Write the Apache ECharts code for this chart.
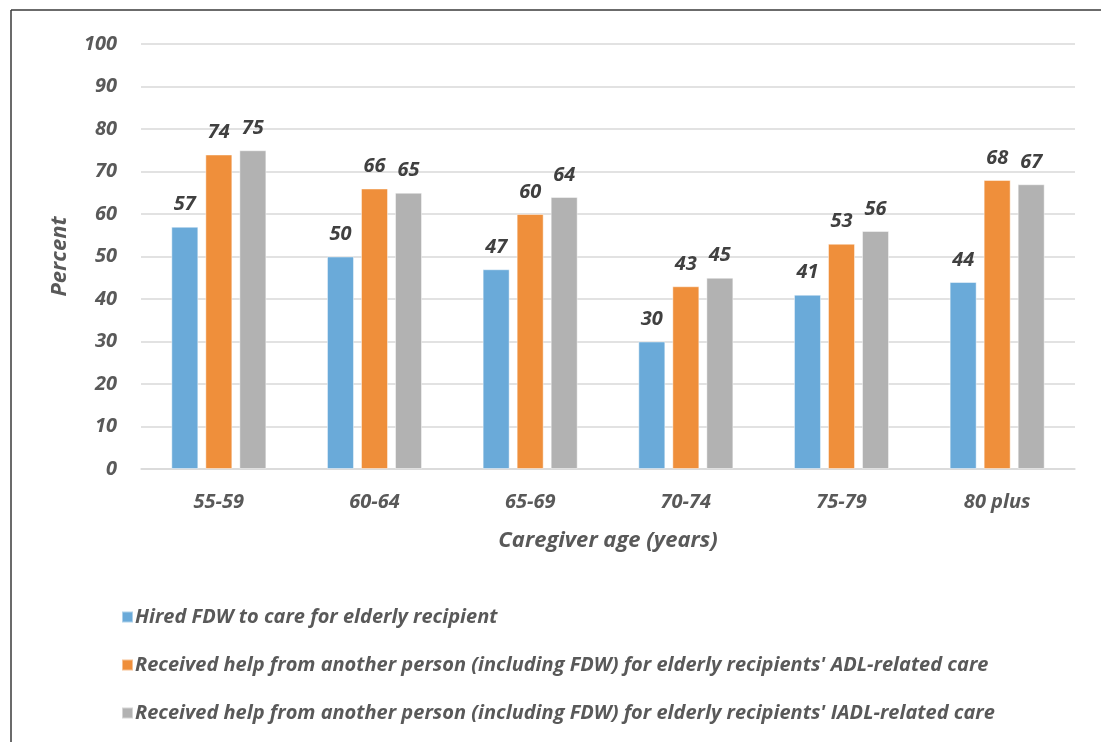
<!DOCTYPE html>
<html>
<head>
<meta charset="utf-8">
<style>
  html, body { margin: 0; padding: 0; background: #ffffff; }
  #chart { width: 1101px; height: 742px; }
</style>
<script src="https://cdn.jsdelivr.net/npm/echarts@6/dist/echarts.min.js"></script>
</head>
<body>
<div id="chart"></div>
<script>
// Caregiver age groups
const ageGroups = ['55-59', '60-64', '65-69', '70-74', '75-79', '80 plus'];

// Percent of caregivers in each group
const hiredFDW = [57, 50, 47, 30, 41, 44];
const helpADL = [74, 66, 60, 43, 53, 68];
const helpIADL = [75, 65, 64, 45, 56, 67];

const seriesNames = [
  'Hired FDW to care for elderly recipient',
  "Received help from another person (including FDW) for elderly recipients' ADL-related care",
  "Received help from another person (including FDW) for elderly recipients' IADL-related care"
];

const yTicks = { min: 0, max: 100, interval: 10 };

const fontFamily = '"Open Sans", "Liberation Sans", sans-serif';
const colors = ['#6aaad9', '#ef8f3b', '#b2b2b2'];

const labelStyle = {
  show: true,
  position: 'top',
  distance: 12,
  fontFamily: fontFamily,
  fontSize: 20,
  fontWeight: 'bold',
  fontStyle: 'italic',
  color: '#404040'
};

function makeSeries(name, data, color) {
  return {
    name: name,
    type: 'bar',
    data: data,
    barWidth: 27,
    barGap: '26%',
    itemStyle: { color: color, borderColor: 'rgba(255,255,255,0.45)', borderWidth: 1 },
    label: labelStyle,
    emphasis: { disabled: true }
  };
}

const chart = echarts.init(document.getElementById('chart'), null, { renderer: 'canvas' });

chart.setOption({
  animation: false,
  backgroundColor: '#ffffff',
  textStyle: { fontFamily: fontFamily },
  grid: { left: 141, right: 26, top: 44, bottom: 273, containLabel: false },
  graphic: [
    { type: 'line', shape: { x1: 11, y1: 10, x2: 1101, y2: 10 }, style: { stroke: '#3a3a3a', lineWidth: 1.5 } },
    { type: 'line', shape: { x1: 11, y1: 10, x2: 11, y2: 742 }, style: { stroke: '#3a3a3a', lineWidth: 1.5 } }
  ],
  legend: {
    orient: 'vertical',
    left: 116,
    top: 600,
    itemWidth: 11,
    itemHeight: 11,
    itemGap: 24,
    icon: 'rect',
    selectedMode: false,
    textStyle: {
      fontFamily: fontFamily,
      fontSize: 20,
      fontWeight: 'bold',
      fontStyle: 'italic',
      color: '#595959',
      lineHeight: 24,
      padding: [0, 0, 0, -3]
    },
    data: seriesNames
  },
  xAxis: {
    type: 'category',
    data: ageGroups,
    name: 'Caregiver age (years)',
    nameLocation: 'middle',
    nameGap: 61,
    nameTextStyle: {
      fontFamily: fontFamily,
      fontSize: 22,
      fontWeight: 'bold',
      fontStyle: 'italic',
      color: '#595959'
    },
    axisLine: { show: true, lineStyle: { color: '#d9d9d9', width: 1.5 } },
    axisTick: { show: false },
    axisLabel: {
      margin: 23,
      fontFamily: fontFamily,
      fontSize: 20,
      fontWeight: 'bold',
      fontStyle: 'italic',
      color: '#595959'
    }
  },
  yAxis: {
    type: 'value',
    min: yTicks.min,
    max: yTicks.max,
    interval: yTicks.interval,
    name: 'Percent',
    nameLocation: 'middle',
    nameGap: 70,
    nameRotate: 90,
    nameTextStyle: {
      fontFamily: fontFamily,
      fontSize: 22,
      fontWeight: 'bold',
      fontStyle: 'italic',
      color: '#595959'
    },
    axisLine: { show: false },
    axisTick: { show: false },
    splitLine: { lineStyle: { color: '#d9d9d9', width: 1.5 } },
    axisLabel: {
      margin: 24,
      fontFamily: fontFamily,
      fontSize: 20,
      fontWeight: 'bold',
      fontStyle: 'italic',
      color: '#595959'
    }
  },
  series: [
    makeSeries(seriesNames[0], hiredFDW, colors[0]),
    makeSeries(seriesNames[1], helpADL, colors[1]),
    makeSeries(seriesNames[2], helpIADL, colors[2])
  ]
});
</script>
</body>
</html>
